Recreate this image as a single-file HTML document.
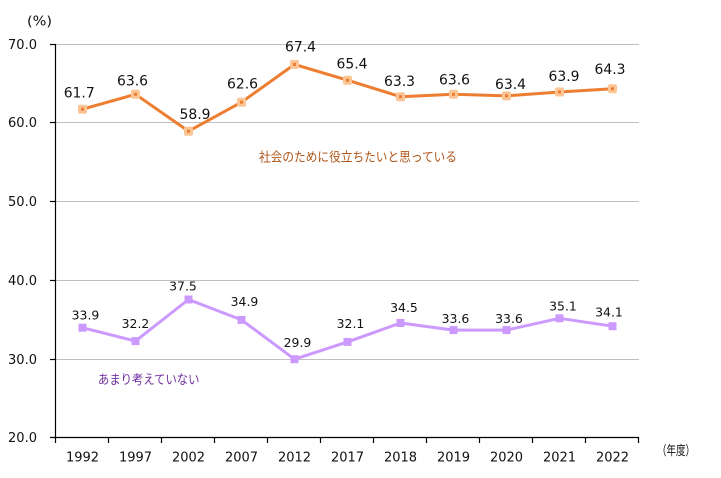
<!DOCTYPE html>
<html><head><meta charset="utf-8"><style>
html,body{margin:0;padding:0;background:#fff;}
svg{display:block;}
text{font-family:"DejaVu Sans","Liberation Sans","Noto Sans CJK JP",sans-serif;fill:#111;}
.jp{font-family:"Noto Sans CJK JP","Liberation Sans",sans-serif;}
</style></head><body>
<svg width="721" height="478" viewBox="0 0 721 478" xmlns="http://www.w3.org/2000/svg">
<!-- gridlines -->
<g stroke="#c0c0c0" stroke-width="1">
<line x1="56" y1="44.5" x2="639" y2="44.5"/>
<line x1="56" y1="122.5" x2="639" y2="122.5"/>
<line x1="56" y1="201.5" x2="639" y2="201.5"/>
<line x1="56" y1="280.5" x2="639" y2="280.5"/>
<line x1="56" y1="359.5" x2="639" y2="359.5"/>
</g>
<!-- axes -->
<g stroke="#000" stroke-width="1.2">
<line x1="55.5" y1="44" x2="55.5" y2="443"/>
<line x1="50" y1="437.5" x2="639" y2="437.5"/>
<line x1="50" y1="44.5" x2="55.5" y2="44.5"/>
<line x1="50" y1="122.5" x2="55.5" y2="122.5"/>
<line x1="50" y1="201.5" x2="55.5" y2="201.5"/>
<line x1="50" y1="280.5" x2="55.5" y2="280.5"/>
<line x1="50" y1="359.5" x2="55.5" y2="359.5"/>
<line x1="108.5" y1="437" x2="108.5" y2="443"/>
<line x1="161.5" y1="437" x2="161.5" y2="443"/>
<line x1="214.5" y1="437" x2="214.5" y2="443"/>
<line x1="267.5" y1="437" x2="267.5" y2="443"/>
<line x1="320.5" y1="437" x2="320.5" y2="443"/>
<line x1="373.5" y1="437" x2="373.5" y2="443"/>
<line x1="426.5" y1="437" x2="426.5" y2="443"/>
<line x1="479.5" y1="437" x2="479.5" y2="443"/>
<line x1="532.5" y1="437" x2="532.5" y2="443"/>
<line x1="585.5" y1="437" x2="585.5" y2="443"/>
<line x1="638.5" y1="437" x2="638.5" y2="443"/>
</g>
<!-- y labels -->
<g font-size="13" text-anchor="end">
<text x="37" y="49" textLength="29" lengthAdjust="spacingAndGlyphs">70.0</text>
<text x="37" y="127" textLength="29" lengthAdjust="spacingAndGlyphs">60.0</text>
<text x="37" y="206" textLength="29" lengthAdjust="spacingAndGlyphs">50.0</text>
<text x="37" y="285" textLength="29" lengthAdjust="spacingAndGlyphs">40.0</text>
<text x="37" y="364" textLength="29" lengthAdjust="spacingAndGlyphs">30.0</text>
<text x="37" y="442" textLength="29" lengthAdjust="spacingAndGlyphs">20.0</text>
</g>
<text x="27" y="25.5" font-size="13" textLength="25" lengthAdjust="spacingAndGlyphs">(%)</text>
<!-- x labels -->
<g font-size="13" text-anchor="middle">
<text x="82.5" y="461.5">1992</text>
<text x="135.5" y="461.5">1997</text>
<text x="188.5" y="461.5">2002</text>
<text x="241.5" y="461.5">2007</text>
<text x="294.5" y="461.5">2012</text>
<text x="347.5" y="461.5">2017</text>
<text x="400.5" y="461.5">2018</text>
<text x="453.5" y="461.5">2019</text>
<text x="506.5" y="461.5">2020</text>
<text x="559.5" y="461.5">2021</text>
<text x="612.5" y="461.5">2022</text>
</g>
<text class="jp" x="657" y="455" font-size="13" textLength="38" lengthAdjust="spacingAndGlyphs">（年度）</text>
<!-- orange series -->
<polyline fill="none" stroke="#ED7D31" stroke-width="3" stroke-linejoin="round"
points="82.5,109.2 135.5,94.3 188.5,131.2 241.5,102.2 294.5,64.4 347.5,80.2 400.5,96.7 453.5,94.3 506.5,95.9 559.5,92.0 612.5,88.8"/>
<g fill="#FBC595">
<rect x="78" y="104.7" width="9" height="9" rx="2"/>
<rect x="131" y="89.8" width="9" height="9" rx="2"/>
<rect x="184" y="126.7" width="9" height="9" rx="2"/>
<rect x="237" y="97.7" width="9" height="9" rx="2"/>
<rect x="290" y="59.9" width="9" height="9" rx="2"/>
<rect x="343" y="75.7" width="9" height="9" rx="2"/>
<rect x="396" y="92.2" width="9" height="9" rx="2"/>
<rect x="449" y="89.8" width="9" height="9" rx="2"/>
<rect x="502" y="91.4" width="9" height="9" rx="2"/>
<rect x="555" y="87.5" width="9" height="9" rx="2"/>
<rect x="608" y="84.3" width="9" height="9" rx="2"/>
</g>
<g fill="#ED7D31">
<rect x="81" y="107.7" width="3" height="3"/>
<rect x="134" y="92.8" width="3" height="3"/>
<rect x="187" y="129.7" width="3" height="3"/>
<rect x="240" y="100.7" width="3" height="3"/>
<rect x="293" y="62.9" width="3" height="3"/>
<rect x="346" y="78.7" width="3" height="3"/>
<rect x="399" y="95.2" width="3" height="3"/>
<rect x="452" y="92.8" width="3" height="3"/>
<rect x="505" y="94.4" width="3" height="3"/>
<rect x="558" y="90.5" width="3" height="3"/>
<rect x="611" y="87.3" width="3" height="3"/>
</g>
<g font-size="14" text-anchor="middle">
<text x="79.2" y="97.3" textLength="31" lengthAdjust="spacingAndGlyphs">61.7</text>
<text x="132.5" y="85.7" textLength="31" lengthAdjust="spacingAndGlyphs">63.6</text>
<text x="195" y="119" textLength="31" lengthAdjust="spacingAndGlyphs">58.9</text>
<text x="242.5" y="88.3" textLength="31" lengthAdjust="spacingAndGlyphs">62.6</text>
<text x="300.5" y="51.7" textLength="31" lengthAdjust="spacingAndGlyphs">67.4</text>
<text x="352" y="68.3" textLength="31" lengthAdjust="spacingAndGlyphs">65.4</text>
<text x="399.5" y="86" textLength="31" lengthAdjust="spacingAndGlyphs">63.3</text>
<text x="454.5" y="84.3" textLength="31" lengthAdjust="spacingAndGlyphs">63.6</text>
<text x="510.5" y="89" textLength="31" lengthAdjust="spacingAndGlyphs">63.4</text>
<text x="564" y="81" textLength="31" lengthAdjust="spacingAndGlyphs">63.9</text>
<text x="610" y="74" textLength="31" lengthAdjust="spacingAndGlyphs">64.3</text>
</g>
<!-- purple series -->
<polyline fill="none" stroke="#CC99FF" stroke-width="3" stroke-linejoin="round"
points="82.5,327.7 135.5,341.1 188.5,299.5 241.5,319.9 294.5,359.2 347.5,341.9 400.5,323.0 453.5,330.1 506.5,330.1 559.5,318.3 612.5,326.2"/>
<g fill="#CC99FF">
<rect x="78.5" y="323.7" width="8" height="8"/>
<rect x="131.5" y="337.1" width="8" height="8"/>
<rect x="184.5" y="295.5" width="8" height="8"/>
<rect x="237.5" y="315.9" width="8" height="8"/>
<rect x="290.5" y="355.2" width="8" height="8"/>
<rect x="343.5" y="337.9" width="8" height="8"/>
<rect x="396.5" y="319.0" width="8" height="8"/>
<rect x="449.5" y="326.1" width="8" height="8"/>
<rect x="502.5" y="326.1" width="8" height="8"/>
<rect x="555.5" y="314.3" width="8" height="8"/>
<rect x="608.5" y="322.2" width="8" height="8"/>
</g>
<g font-size="12.5" text-anchor="middle">
<text x="85.5" y="319.5" textLength="27.7" lengthAdjust="spacingAndGlyphs">33.9</text>
<text x="135.5" y="327.8" textLength="27.7" lengthAdjust="spacingAndGlyphs">32.2</text>
<text x="183" y="290.5" textLength="27.7" lengthAdjust="spacingAndGlyphs">37.5</text>
<text x="244.5" y="306.2" textLength="27.7" lengthAdjust="spacingAndGlyphs">34.9</text>
<text x="297.5" y="347.2" textLength="27.7" lengthAdjust="spacingAndGlyphs">29.9</text>
<text x="350.5" y="327.8" textLength="27.7" lengthAdjust="spacingAndGlyphs">32.1</text>
<text x="404" y="311.8" textLength="27.7" lengthAdjust="spacingAndGlyphs">34.5</text>
<text x="455.5" y="322.8" textLength="27.7" lengthAdjust="spacingAndGlyphs">33.6</text>
<text x="509" y="322.8" textLength="27.7" lengthAdjust="spacingAndGlyphs">33.6</text>
<text x="563" y="310.5" textLength="27.7" lengthAdjust="spacingAndGlyphs">35.1</text>
<text x="609" y="316.5" textLength="27.7" lengthAdjust="spacingAndGlyphs">34.1</text>
</g>
<!-- annotations -->
<text class="jp" x="259" y="161.5" font-size="13" style="fill:#B0561A" textLength="198" lengthAdjust="spacingAndGlyphs">社会のために役立ちたいと思っている</text>
<text class="jp" x="98" y="384" font-size="13" style="fill:#7030A0" textLength="101.5" lengthAdjust="spacingAndGlyphs">あまり考えていない</text>
</svg>
</body></html>
